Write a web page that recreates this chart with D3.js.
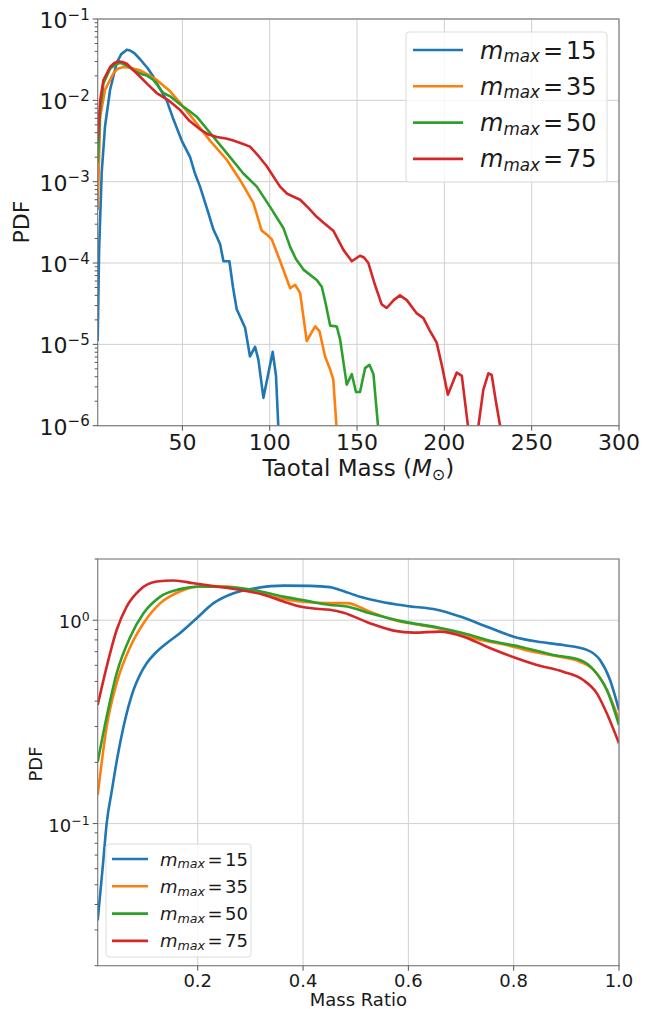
<!DOCTYPE html>
<html lang="en">
<head>
<meta charset="utf-8">
<title>Total mass and mass ratio PDF</title>
<script src="https://d3js.org/d3.v7.min.js"></script>
<style>
  body { margin: 0; background: #fff; }
  svg { font-family: "DejaVu Sans", sans-serif; fill: #1a1a1a; }
  .grid line { stroke: #d0d0d0; stroke-width: 1; }
  .spine { fill: none; stroke: #808080; stroke-width: 1.2; }
  .tick { stroke: #555; stroke-width: 1; }
  .curve { fill: none; stroke-width: 2.6; stroke-linejoin: round; }
  .legend-box { fill: #fff; fill-opacity: 0.8; stroke: #dcdcdc; stroke-width: 1; }
</style>
</head>
<body>
<script>
// legend labels (m_max) and matplotlib tab10 colours
const mmaxLabels = ["15", "35", "50", "75"];
const colors = ["#1f77b4", "#ff7f0e", "#2ca02c", "#d62728"];

// top panel: [total mass (M_sun), pdf]
const totalMass15 = [
  [1.5, 1.1e-5], [2.3, 1.45e-4], [3.8, 1.3e-3], [5.7, 4.8e-3], [8.6, 1.35e-2], [12.4, 2.9e-2],
  [15, 3.7e-2], [18.2, 4.2e-2], [20, 4.1e-2], [22.5, 3.8e-2], [25.8, 3.2e-2], [30, 2.5e-2],
  [33.4, 1.95e-2], [37, 1.4e-2], [41, 1.0e-2], [44.9, 5.8e-3], [49.6, 3.2e-3], [54.4, 2.0e-3],
  [57, 1.3e-3], [60.1, 8.7e-4], [64.9, 4.1e-4], [67.7, 2.6e-4], [69.7, 2.1e-4], [71.6, 1.7e-4],
  [73.5, 1.05e-4], [76.9, 1.05e-4], [79, 5e-5], [81.1, 2.7e-5], [85.9, 1.6e-5], [88.7, 7.1e-6],
  [91.6, 9.3e-6], [93.5, 6.5e-6], [96.4, 2.2e-6], [101.7, 8.1e-6], [103.6, 4.1e-6], [104.9, 1.0e-6],
  [105.6, 1e-8]
];
const totalMass35 = [
  [1.5, 4.5e-4], [2.9, 6.3e-3], [5.7, 1.35e-2], [10.5, 2.14e-2], [13, 2.45e-2], [16.2, 2.57e-2],
  [20, 2.51e-2], [25.8, 2.34e-2], [30, 2.09e-2], [35.3, 1.78e-2], [43, 1.29e-2], [50.6, 8.3e-3],
  [58.2, 5.2e-3], [65.8, 3.2e-3], [75.4, 1.86e-3], [83, 1.05e-3], [90.6, 5.5e-4], [95.4, 2.5e-4],
  [98.3, 2.24e-4], [101.2, 1.95e-4], [106, 1.05e-4], [111.7, 4.9e-5], [114.5, 5.4e-5], [117.4, 4.3e-5],
  [121.2, 1.1e-5], [126, 1.66e-5], [128.5, 1.45e-5], [131.7, 7.1e-6], [134.6, 4.9e-6], [136.4, 3.7e-6],
  [138.2, 1.0e-6], [139, 1e-8]
];
const totalMass50 = [
  [1.5, 1.7e-3], [2.9, 7.6e-3], [4.8, 1.62e-2], [8.6, 2.45e-2], [11, 2.7e-2], [14.3, 2.9e-2],
  [18, 2.7e-2], [22, 2.34e-2], [27, 2.09e-2], [30, 2.0e-2], [33.4, 1.78e-2], [39.1, 1.23e-2],
  [43, 1.12e-2], [50.6, 8.3e-3], [54, 7.4e-3], [58.2, 6.3e-3], [65.8, 4.0e-3], [75.4, 2.24e-3],
  [84.9, 1.26e-3], [92.6, 8.7e-4], [100.2, 4.9e-4], [107.8, 2.7e-4], [111.7, 1.58e-4], [115, 1.12e-4],
  [119.3, 8.3e-5], [126.9, 6.2e-5], [129.8, 5.1e-5], [132, 3.2e-5], [134.6, 1.7e-5], [138.4, 1.66e-5],
  [140.3, 1.15e-5], [144.1, 3.2e-6], [147, 4.3e-6], [149.4, 2.6e-6], [151.7, 2.6e-6], [154.6, 5.1e-6],
  [157.1, 5.6e-6], [159.4, 4.3e-6], [162, 1.0e-6], [162.8, 1e-8]
];
const totalMass75 = [
  [1.5, 3.2e-3], [2.9, 1.0e-2], [4.8, 1.78e-2], [8.6, 2.57e-2], [11, 2.88e-2], [13.4, 3.0e-2],
  [16, 2.95e-2], [18.2, 2.82e-2], [21, 2.45e-2], [25.8, 1.95e-2], [30, 1.58e-2], [35.3, 1.23e-2],
  [42, 1.0e-2], [48.7, 7.6e-3], [54, 5.6e-3], [60.1, 4.4e-3], [65, 3.8e-3], [69.7, 3.55e-3],
  [75, 3.4e-3], [79.2, 3.2e-3], [84, 2.95e-3], [88.7, 2.7e-3], [93, 2.14e-3], [98.3, 1.55e-3],
  [105.9, 8.7e-4], [110, 7.1e-4], [117.4, 6.0e-4], [122, 4.8e-4], [126.9, 3.7e-4], [131, 3.1e-4],
  [136.4, 2.5e-4], [142.2, 1.45e-4], [147, 1.05e-4], [151.7, 1.23e-4], [154, 1.17e-4], [156.5, 1.0e-4],
  [160, 5.6e-5], [164.1, 3.1e-5], [167, 2.8e-5], [171, 3.5e-5], [174.6, 4.0e-5], [178.5, 3.5e-5],
  [184.2, 2.4e-5], [188, 2.1e-5], [191.5, 1.5e-5], [195.6, 1.05e-5], [198.5, 5.6e-6], [202, 2.4e-6],
  [207.1, 4.5e-6], [210, 4.1e-6], [213.5, 1.0e-6], [214.5, 1e-8], [218.8, 1e-8], [219.5, 1.0e-6],
  [222.3, 2.75e-6], [225.2, 4.4e-6], [227.1, 4.2e-6], [229.5, 2.0e-6], [231.9, 1.0e-6], [232.8, 1e-8]
];

// bottom panel: [mass ratio q, pdf]
const massRatio15 = [
  [0.01, 0.0334], [0.02, 0.063], [0.027, 0.100], [0.037, 0.146], [0.047, 0.209], [0.059, 0.299],
  [0.078, 0.454], [0.09, 0.537], [0.103, 0.614], [0.12, 0.692], [0.141, 0.771], [0.166, 0.863],
  [0.198, 1.023], [0.23, 1.213], [0.268, 1.358], [0.312, 1.439], [0.363, 1.479], [0.413, 1.476],
  [0.451, 1.455], [0.47, 1.409], [0.508, 1.306], [0.546, 1.236], [0.597, 1.175], [0.654, 1.125],
  [0.698, 1.042], [0.749, 0.929], [0.80, 0.830], [0.844, 0.785], [0.894, 0.755], [0.939, 0.715],
  [0.964, 0.637], [0.983, 0.508], [1.0, 0.361]
];
const massRatio35 = [
  [0.01, 0.138], [0.027, 0.299], [0.046, 0.490], [0.072, 0.741], [0.097, 0.966], [0.129, 1.213],
  [0.166, 1.384], [0.204, 1.466], [0.255, 1.466], [0.306, 1.384], [0.356, 1.282], [0.394, 1.236],
  [0.451, 1.213], [0.483, 1.213], [0.527, 1.102], [0.572, 1.002], [0.622, 0.948], [0.673, 0.895],
  [0.723, 0.815], [0.787, 0.755], [0.837, 0.700], [0.888, 0.662], [0.926, 0.625], [0.952, 0.569],
  [0.977, 0.454], [1.0, 0.323]
];
const massRatio50 = [
  [0.01, 0.201], [0.027, 0.335], [0.046, 0.548], [0.072, 0.830], [0.097, 1.081], [0.129, 1.306],
  [0.166, 1.422], [0.204, 1.466], [0.255, 1.455], [0.306, 1.409], [0.363, 1.306], [0.407, 1.245],
  [0.451, 1.189], [0.483, 1.167], [0.527, 1.081], [0.591, 0.984], [0.654, 0.923], [0.705, 0.863],
  [0.762, 0.785], [0.812, 0.741], [0.875, 0.675], [0.926, 0.637], [0.952, 0.569], [0.977, 0.454],
  [1.0, 0.305]
];
const massRatio75 = [
  [0.01, 0.383], [0.027, 0.590], [0.046, 0.895], [0.065, 1.167], [0.090, 1.409], [0.122, 1.549],
  [0.154, 1.567], [0.192, 1.521], [0.236, 1.466], [0.280, 1.409], [0.325, 1.334], [0.363, 1.236],
  [0.394, 1.167], [0.426, 1.138], [0.451, 1.125], [0.477, 1.089], [0.527, 0.966], [0.572, 0.889],
  [0.610, 0.869], [0.660, 0.879], [0.705, 0.830], [0.749, 0.741], [0.80, 0.658], [0.844, 0.603],
  [0.894, 0.558], [0.932, 0.508], [0.958, 0.437], [0.977, 0.348], [1.0, 0.248]
];

// ticks
const massTicks = [50, 100, 150, 200, 250, 300];
const massPdfTicks = [1e-6, 1e-5, 1e-4, 1e-3, 1e-2, 1e-1];
const ratioTicks = [0.2, 0.4, 0.6, 0.8, 1.0];
const ratioPdfTicks = [0.1, 1];

const W = 654, H = 1009;
const svg = d3.select("body").append("svg").attr("width", W).attr("height", H);

function powLabel(text, v, supSize, rise) {
  const e = Math.round(Math.log10(v));
  text.append("tspan").text("10");
  text.append("tspan").attr("font-size", supSize).attr("dy", -rise)
      .text(e < 0 ? "\u2212" + (-e) : String(e));
}

// m_max = NN, mathtext style
function mmaxText(text, label, size, drop, gap) {
  text.append("tspan").attr("font-style", "italic").text("m");
  text.append("tspan").attr("font-style", "italic").attr("font-size", size * 0.7).attr("dy", drop).text("max");
  text.append("tspan").attr("dy", -drop).attr("dx", gap).text("=");
  text.append("tspan").attr("dx", gap).text(label);
}

function panel(o) {
  const g = svg.append("g");
  const x = d3.scaleLinear().domain(o.xDomain).range([o.left, o.right]);
  const y = d3.scaleLog().domain(o.yDomain).range([o.bottom, o.top]);

  // grid
  const grid = g.append("g").attr("class", "grid");
  grid.selectAll(".gx").data(o.xTicks).join("line").attr("class", "gx")
      .attr("x1", d => x(d)).attr("x2", d => x(d)).attr("y1", o.top).attr("y2", o.bottom);
  grid.selectAll(".gy").data(o.yTicks).join("line").attr("class", "gy")
      .attr("x1", o.left).attr("x2", o.right).attr("y1", d => y(d)).attr("y2", d => y(d));

  // curves, clipped to the axes
  svg.append("clipPath").attr("id", "clip-" + o.id).append("rect")
     .attr("x", o.left).attr("y", o.top).attr("width", o.right - o.left).attr("height", o.bottom - o.top);
  const line = d3.line().curve(o.curve).x(d => x(d[0])).y(d => y(d[1]));
  g.append("g").attr("clip-path", "url(#clip-" + o.id + ")")
   .selectAll("path").data(o.series).join("path")
   .attr("class", "curve").attr("stroke", (d, i) => colors[i]).attr("d", line);

  // spines
  g.append("rect").attr("class", "spine")
   .attr("x", o.left).attr("y", o.top).attr("width", o.right - o.left).attr("height", o.bottom - o.top);

  // x ticks
  g.selectAll(".xt").data(o.xTicks).join("line").attr("class", "tick")
   .attr("x1", d => x(d)).attr("x2", d => x(d)).attr("y1", o.bottom).attr("y2", o.bottom + 5);
  g.selectAll(".xl").data(o.xTicks).join("text").attr("class", "xl")
   .attr("x", d => x(d)).attr("y", o.bottom + o.xTickDy)
   .attr("text-anchor", "middle").attr("font-size", o.tickSize)
   .text(d => o.xFormat(d));

  // y ticks, major and minor
  const minor = [];
  const e0 = Math.floor(Math.log10(o.yDomain[0])), e1 = Math.ceil(Math.log10(o.yDomain[1]));
  for (let e = e0; e <= e1; e++) {
    for (let k = 2; k <= 9; k++) {
      const v = k * Math.pow(10, e);
      if (v >= o.yDomain[0] * 0.999 && v <= o.yDomain[1] * 1.001) minor.push(v);
    }
  }
  g.selectAll(".ym").data(minor).join("line").attr("class", "tick")
   .attr("x1", o.left - 3).attr("x2", o.left).attr("y1", d => y(d)).attr("y2", d => y(d));
  g.selectAll(".yt").data(o.yTicks).join("line").attr("class", "tick")
   .attr("x1", o.left - 5).attr("x2", o.left).attr("y1", d => y(d)).attr("y2", d => y(d));
  g.selectAll(".yl").data(o.yTicks).join("text").attr("class", "yl")
   .attr("x", o.left - o.yTickPad).attr("y", d => y(d) + o.yTickDy)
   .attr("text-anchor", "end").attr("font-size", o.tickSize)
   .each(function (d) { powLabel(d3.select(this), d, o.supSize, o.supRise); });

  // axis labels
  const xl = g.append("text").attr("x", (o.left + o.right) / 2).attr("y", o.xLabelY)
   .attr("text-anchor", "middle").attr("font-size", o.labelSize);
  o.xLabel(xl);
  g.append("text").attr("transform", `translate(${o.yLabelX},${o.yLabelY}) rotate(-90)`)
   .attr("text-anchor", "middle").attr("font-size", o.yLabelSize).text("PDF");

  // legend
  const L = o.legend;
  g.append("rect").attr("class", "legend-box").attr("rx", 3)
   .attr("x", L.x).attr("y", L.y).attr("width", L.w).attr("height", L.h);
  const rows = g.selectAll(".lg").data(mmaxLabels).join("g")
   .attr("transform", (d, i) => `translate(0,${L.first + i * L.step})`);
  rows.append("line").attr("x1", L.lineX1).attr("x2", L.lineX2)
   .attr("stroke", (d, i) => colors[i]).attr("stroke-width", 2.6);
  rows.append("text").attr("x", L.textX).attr("y", L.baseDy).attr("font-size", L.size)
   .each(function (d) { mmaxText(d3.select(this), d, L.size, L.drop, L.gap); });
}

// top: total mass
panel({
  id: "mass", left: 97.7, right: 619, top: 19, bottom: 425.7,
  xDomain: [1.5, 300], yDomain: [1e-6, 1e-1],
  xTicks: massTicks, yTicks: massPdfTicks, xFormat: d => d,
  series: [totalMass15, totalMass35, totalMass50, totalMass75],
  curve: d3.curveLinear,
  tickSize: 22, supSize: 15, supRise: 8.5, xTickDy: 24, yTickPad: 8, yTickDy: 9,
  labelSize: 23, xLabelY: 476, yLabelX: 28.5, yLabelY: 222, yLabelSize: 22,
  xLabel: t => {
    t.append("tspan").text("Taotal Mass (");
    t.append("tspan").attr("font-style", "italic").text("M");
    t.append("tspan").attr("font-size", 16).attr("dy", 4).text("\u2299");
    t.append("tspan").attr("dy", -4).text(")");
  },
  legend: { x: 406, y: 32, w: 201, h: 150, first: 50, step: 36.3,
            lineX1: 413, lineX2: 463, textX: 480, baseDy: 8.5, size: 24, drop: 3.5, gap: 3 }
});

// bottom: mass ratio
panel({
  id: "ratio", left: 97.7, right: 619, top: 559, bottom: 965.7,
  xDomain: [0.01, 1.0], yDomain: [0.02, 2.0],
  xTicks: ratioTicks, yTicks: ratioPdfTicks, xFormat: d3.format(".1f"),
  series: [massRatio15, massRatio35, massRatio50, massRatio75],
  curve: d3.curveMonotoneX,
  tickSize: 18, supSize: 12.5, supRise: 6.8, xTickDy: 21, yTickPad: 8, yTickDy: 8,
  labelSize: 18, xLabelY: 1006, yLabelX: 41.5, yLabelY: 764, yLabelSize: 18,
  xLabel: t => t.text("Mass Ratio"),
  legend: { x: 106, y: 844, w: 145, h: 113, first: 859, step: 27.3,
            lineX1: 112, lineX2: 148, textX: 160, baseDy: 6.5, size: 18, drop: 2.7, gap: 2.5 }
});
</script>
</body>
</html>
